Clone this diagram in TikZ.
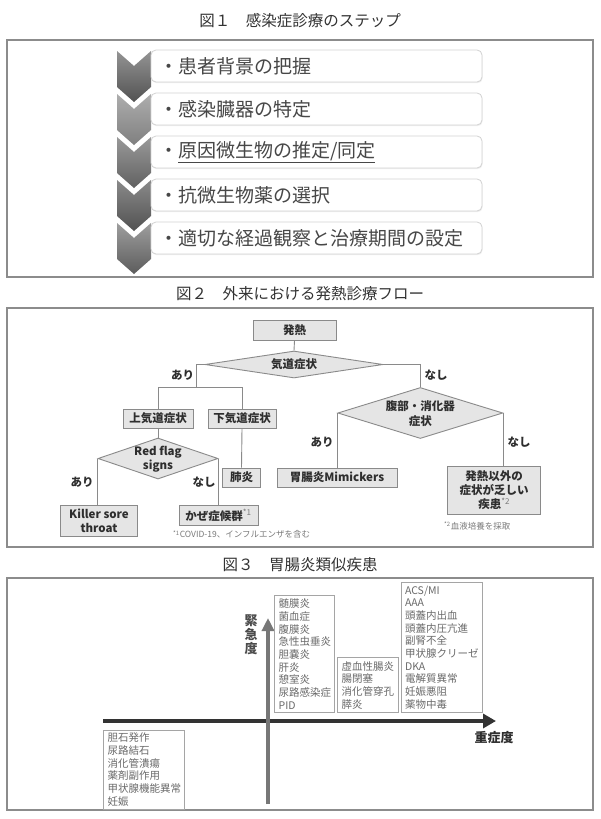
\documentclass[tikz,border=0pt]{standalone}
\usepackage{fontspec}
\setmainfont{Noto Sans CJK JP}
\usetikzlibrary{shapes.geometric,arrows.meta,shadows}
\definecolor{frameC}{HTML}{8C8C8C}
\definecolor{titleC}{HTML}{333333}
\definecolor{rowline}{HTML}{D2D2D2}
\definecolor{rowtext}{HTML}{474747}
\definecolor{boxfill}{HTML}{E5E5E5}
\definecolor{boxline}{HTML}{8A8A8A}
\definecolor{darkT}{HTML}{2E2E2E}
\definecolor{noteT}{HTML}{7A7A7A}
\definecolor{listT}{HTML}{6A6A6A}
\definecolor{listline}{HTML}{A5A5A5}
\definecolor{varrow}{HTML}{777777}
\definecolor{harrow}{HTML}{333333}
\newcommand\setfs[2]{\fontsize{#1}{#2}\selectfont}
\begin{document}
\begin{tikzpicture}[x=1pt,y=-1pt,
  figtitle/.style={font=\setfs{15.5}{18}, text=titleC, inner sep=0pt},
  frame/.style={draw=frameC, line width=1.1pt},
  rowbox/.style={draw=rowline, fill=white, rounded corners=5pt, line width=0.8pt,
    minimum width=331pt, minimum height=32pt, text width=315pt, align=left,
    inner xsep=8pt, inner ysep=0pt, font=\setfs{19}{20}, text=rowtext,
    drop shadow={shadow xshift=0.6pt, shadow yshift=-1.2pt, opacity=0.12}},
  fbox/.style={draw=boxline, fill=boxfill, line width=0.9pt, inner sep=0pt,
    font=\bfseries\setfs{11.5}{14}, text=darkT, align=center},
  dia/.style={diamond, draw=boxline, fill=boxfill, line width=0.9pt, inner sep=0pt},
  diatext/.style={font=\bfseries\setfs{11.5}{14.5}, text=darkT, align=center, inner sep=0pt},
  yn/.style={font=\bfseries\setfs{11.5}{14}, text=darkT, inner sep=0pt},
  conn/.style={draw=boxline, line width=0.9pt},
  note/.style={font=\setfs{8.5}{10}, text=noteT, inner sep=0pt, anchor=west},
  listbox/.style={draw=listline, line width=0.7pt, anchor=north west, align=left,
    font=\setfs{10.5}{12.67}, text=listT, inner xsep=4pt, inner ysep=0pt},
  axislbl/.style={font=\bfseries\setfs{13}{14}, align=center, inner sep=0pt}]
\useasboundingbox (0,0) rectangle (600,819);
\fill[white] (0,0) rectangle (600,819);

% ---------------- Figure 1 ----------------
\node[figtitle] (t1) at (300,21) {図１　感染症診療のステップ};
\draw[frame] (7,40) rectangle (593,277);
\foreach \t/\ca/\cb in {51/42/68, 94/32/50, 137/40/62, 180/46/68, 223/38/64}{
  \shade[top color=black!\ca, bottom color=black!\cb]
    (117,\t) -- (134,\t+15) -- (151,\t) -- (151,\t+36) -- (134,\t+51) -- (117,\t+36) -- cycle;
}
\node[rowbox] (r1) at (316.5,66) {・患者背景の把握};
\node[rowbox] (r2) at (316.5,109) {・感染臓器の特定};
\node[rowbox] (r3) at (316.5,152) {・\underline{原因微生物の推定/同定}};
\node[rowbox] (r4) at (316.5,195) {・抗微生物薬の選択};
\node[rowbox] (r5) at (316.5,238) {・適切な経過観察と治療期間の設定};

% ---------------- Figure 2 ----------------
\node[figtitle] (t2) at (300,294) {図２　外来における発熱診療フロー};
\draw[frame] (7,308) rectangle (593,547);

\node[fbox, minimum width=83pt, minimum height=20pt] (fever) at (294.5,330) {発熱};
\node[dia, minimum width=178pt, minimum height=27pt] (d1) at (294,364.5) {};
\node[diatext] (d1t) at (294,364.5) {気道症状};

\node[fbox, minimum width=70pt, minimum height=19pt] (uri) at (158,418.5) {上気道症状};
\node[fbox, minimum width=68pt, minimum height=19pt] (lri) at (242,418.5) {下気道症状};
\node[dia, minimum width=120pt, minimum height=41pt] (rf) at (158,458.5) {};
\node[diatext] (rft) at (158,459) {Red flag\\signs};
\node[fbox, minimum width=77pt, minimum height=31pt] (kst) at (99,521) {Killer sore\\throat};
\node[fbox, minimum width=79pt, minimum height=19.5pt] (kaze) at (218.5,515.5) {かぜ症候群{\mdseries\color{noteT}\textsuperscript{*1}}};
\node[fbox, minimum width=38pt, minimum height=19pt] (pn) at (241.5,477.5) {肺炎};

\node[dia, minimum width=165pt, minimum height=51pt] (d2) at (420.3,413) {};
\node[diatext] (d2t) at (420.3,413.5) {腹部・消化器\\症状};
\node[fbox, minimum width=120pt, minimum height=19pt] (mim) at (337,477.5) {胃腸炎Mimickers};
\node[fbox, minimum width=93pt, minimum height=48pt] (oth) at (494.2,490.2) {\setfs{11.5}{14}発熱以外の\\症状が乏しい\\疾患{\mdseries\color{noteT}\textsuperscript{*2}}};

\coordinate (ja) at (196,364.5);
\coordinate (jb) at (196,387);
\coordinate (jl) at (158,387);
\coordinate (jr) at (242,387);
\coordinate (jn) at (420.3,364.5);

\draw[conn] (fever.south) -- (d1.north);
\draw[conn] (d1.west) -- (ja) -- (jb);
\draw[conn] (jl) -- (jr);
\draw[conn] (jl) -- (uri.north);
\draw[conn] (jr) -- (lri.north);
\draw[conn] (uri.south) -- (rf.north);
\draw[conn] (rf.west) -- (rf.west |- kst.north);
\draw[conn] (rf.east) -- (rf.east |- kaze.north);
\draw[conn] (lri.south) -- (pn.north);
\draw[conn] (d1.east) -- (jn) -- (d2.north);
\draw[conn] (d2.west) -- (d2.west |- mim.north);
\draw[conn] (d2.east) -- (d2.east |- oth.north);

\node[yn] (y1) at (182.5,375.5) {あり};
\node[yn] (n1) at (436,375.5) {なし};
\node[yn] (y2) at (82,482) {あり};
\node[yn] (n2) at (204,482) {なし};
\node[yn] (y3) at (322,442) {あり};
\node[yn] (n3) at (519,442) {なし};

\node[note] (fn1) at (173,534.5) {\textsuperscript{*1}COVID-19、インフルエンザを含む};
\node[note] (fn2) at (444,526) {\textsuperscript{*2}血液培養を採取};

% ---------------- Figure 3 ----------------
\node[figtitle] (t3) at (300,565) {図３　胃腸炎類似疾患};
\draw[frame] (7,578) rectangle (593,810);

\coordinate (hl) at (103,721);
\coordinate (hr) at (496,721);
\coordinate (vb) at (268,804);
\coordinate (vt) at (268,618);
\draw[line width=4.5pt, harrow, -{Triangle[width=14pt,length=13pt]}] (hl) -- (hr);
\draw[line width=4.5pt, varrow, -{Triangle[width=12pt,length=13pt]}] (vb) -- (vt);

\node[axislbl, text=black!70] (urg) at (251,634.5) {緊\\急\\度};
\node[axislbl, text=darkT] (sev) at (494,738) {重症度};

\node[listbox, minimum width=60pt, minimum height=117pt, text width=52pt] (la) at (274.3,595.3)
 {髄膜炎\\菌血症\\腹膜炎\\急性虫垂炎\\胆嚢炎\\肝炎\\憩室炎\\尿路感染症\\PID};
\node[listbox, minimum width=61pt, minimum height=55pt, text width=53pt] (lb) at (337.3,657.3)
 {虚血性腸炎\\腸閉塞\\消化管穿孔\\膵炎};
\node[listbox, minimum width=81pt, minimum height=130.3pt, text width=73pt] (lc) at (400.7,582)
 {ACS/MI\\AAA\\頭蓋内出血\\頭蓋内圧亢進\\副腎不全\\甲状腺クリーゼ\\DKA\\電解質異常\\妊娠悪阻\\薬物中毒};
\node[listbox, minimum width=81pt, minimum height=79pt, text width=73pt] (ld) at (103.3,729.7)
 {胆石発作\\尿路結石\\消化管潰瘍\\薬剤副作用\\甲状腺機能異常\\妊娠};
\end{tikzpicture}
\end{document}
